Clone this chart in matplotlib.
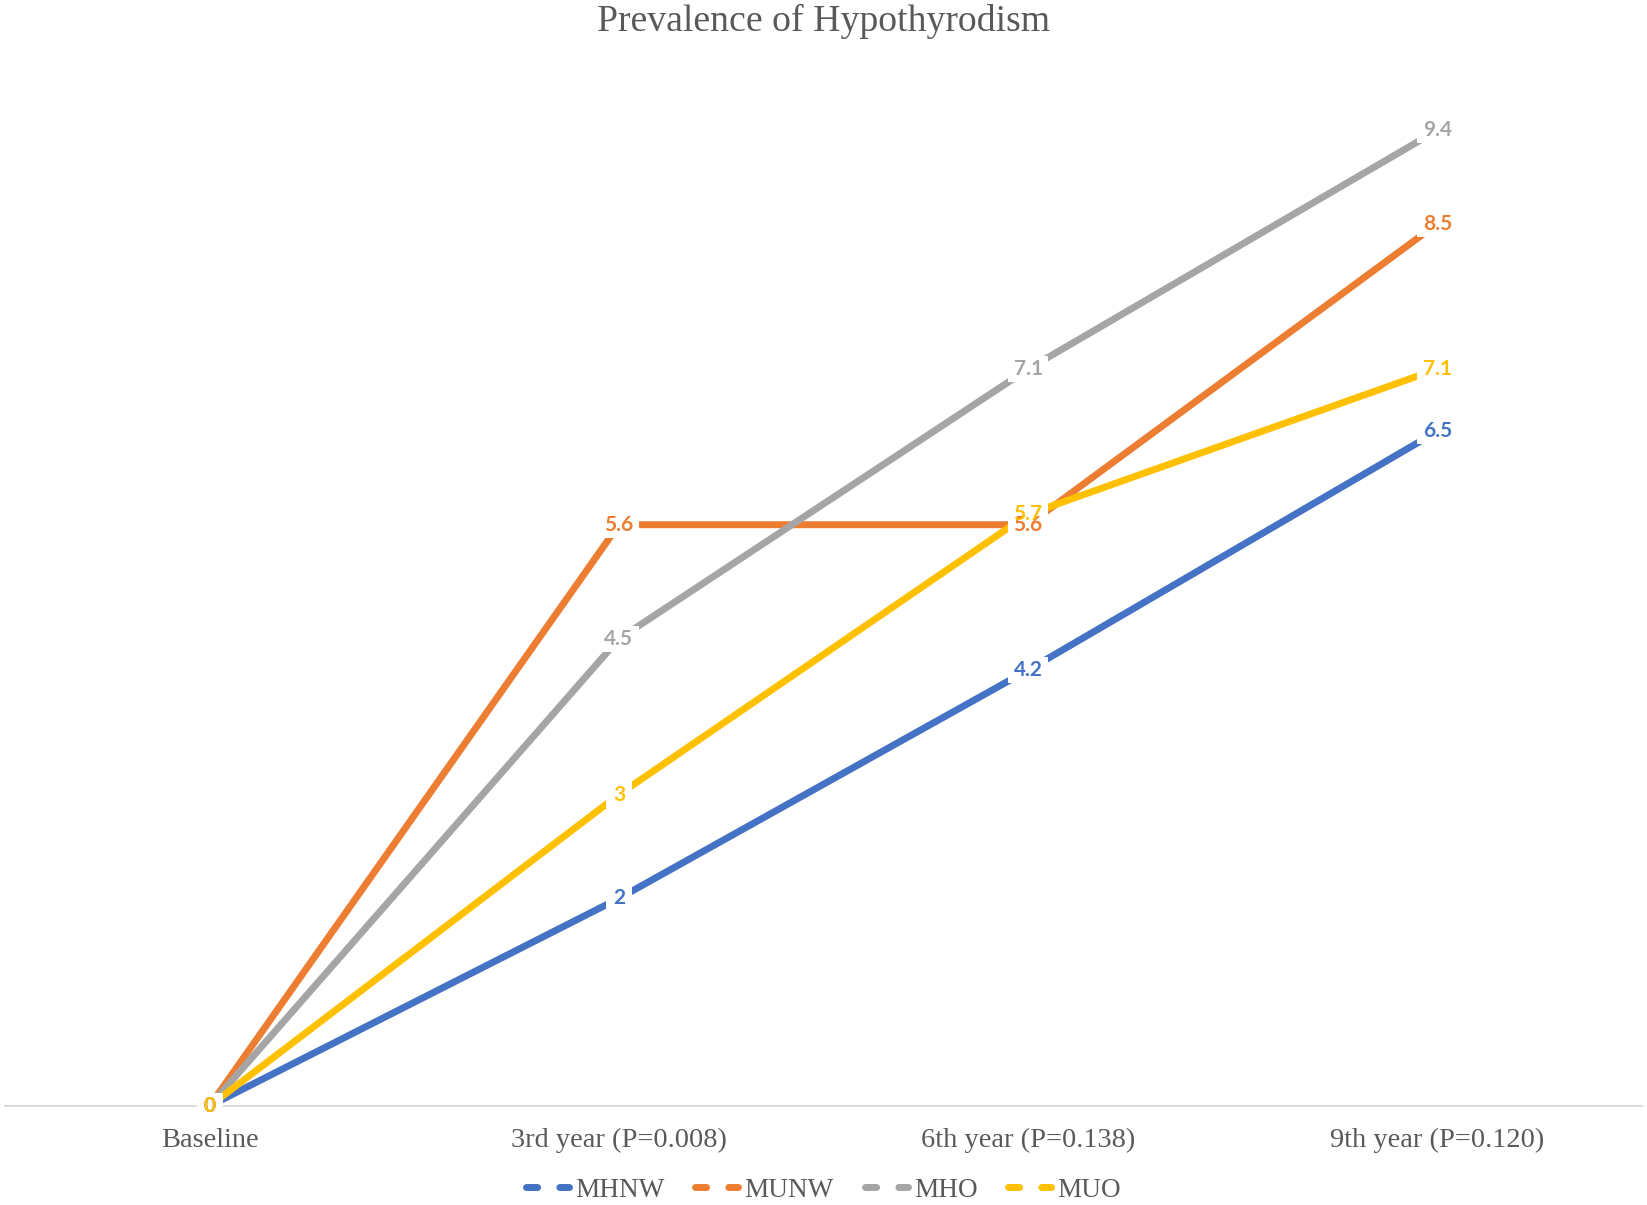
import matplotlib
matplotlib.use("Agg")
import matplotlib.pyplot as plt
from matplotlib.lines import Line2D

categories = ["Baseline", "3rd year (P=0.008)", "6th year (P=0.138)", "9th year (P=0.120)"]
series_names = ["MHNW", "MUNW", "MHO", "MUO"]
mhnw = [0, 2, 4.2, 6.5]
munw = [0, 5.6, 5.6, 8.5]
mho = [0, 4.5, 7.1, 9.4]
muo = [0, 3, 5.7, 7.1]
colors = ["#4472C4", "#ED7D31", "#A5A5A5", "#FFC000"]

serif = "Liberation Serif"
label_font = "Lato"
text_gray = "#595959"

# white label backgrounds as rectangular markers (wide one for "x.y", square for one digit)
wide_box = [(-1.5, -1), (1.5, -1), (1.5, 1), (-1.5, 1), (-1.5, -1)]
small_box = [(-1, -1), (1, -1), (1, 1), (-1, 1), (-1, -1)]

fig = plt.figure(figsize=(16.47, 12.05), dpi=100)
ax = fig.add_axes([5 / 1647, 1 - 1106 / 1205, 1637 / 1647, 1038 / 1205])

x = list(range(len(categories)))
all_series = [mhnw, munw, mho, muo]

for vals, col in zip(all_series, colors):
    ax.plot(x, vals, color=col, linewidth=5, solid_capstyle="butt", zorder=2)

for vals, col in zip(all_series, colors):
    for xi, v in zip(x, vals):
        txt = f"{v:g}"
        if len(txt) > 1:
            ax.plot([xi], [v], linestyle="none", marker=wide_box, markersize=29,
                    mfc="white", mew=0, zorder=3)
        else:
            ax.plot([xi], [v], linestyle="none", marker=small_box, markersize=19,
                    mfc="white", mew=0, zorder=3)
        ax.text(xi, v, txt, ha="center", va="center", color=col,
                fontsize=15, fontweight="bold", family=label_font, zorder=5)

ax.set_xlim(-0.5, 3.5)
ax.set_ylim(0, 10)
ax.set_yticks([])
ax.set_xticks(x)
ax.set_xticklabels(categories, family=serif, fontsize=20.4, color=text_gray)
ax.tick_params(axis="x", length=0, pad=16)
for side in ["top", "left", "right"]:
    ax.spines[side].set_visible(False)
ax.spines["bottom"].set_color("#d9d9d9")
ax.spines["bottom"].set_linewidth(1.3)
ax.spines["bottom"].set_zorder(1)

fig.text(0.5, 1 - 21 / 1205, "Prevalence of Hypothyrodism", ha="center", va="center",
         family=serif, fontsize=27.2, color=text_gray)

handles = [Line2D([0], [0], color=c, linewidth=5, linestyle=(0, (1.6, 3.2)),
                  dash_capstyle="round") for c in colors]
leg = fig.legend(handles, series_names, loc="center", bbox_to_anchor=(0.5, 1 - 1190 / 1205),
                 ncol=4, frameon=False, handlelength=1.58, handletextpad=0.23, columnspacing=1.13,
                 prop={"family": serif, "size": 19.6}, borderpad=0.2)
for t in leg.get_texts():
    t.set_color(text_gray)

fig.savefig("out.png", dpi=100)
